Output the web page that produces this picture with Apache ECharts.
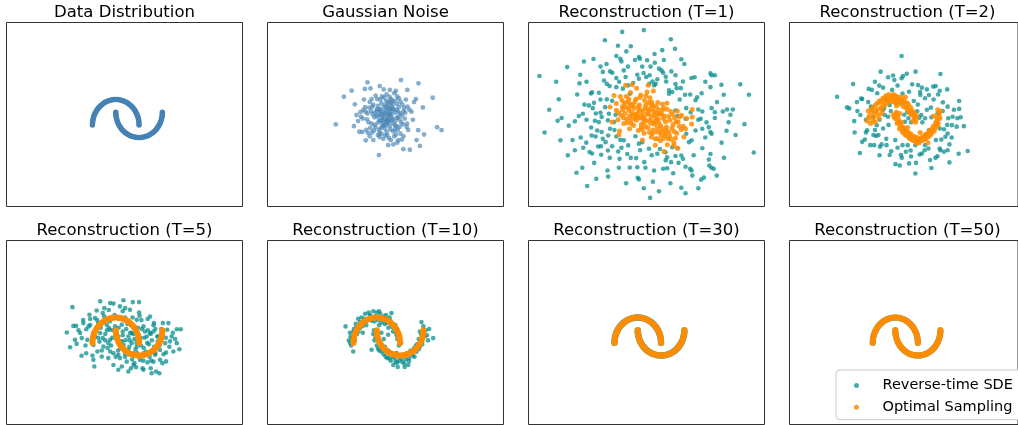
<!DOCTYPE html>
<html>
<head>
<meta charset="utf-8">
<script src="https://cdn.jsdelivr.net/npm/echarts@6/dist/echarts.min.js"></script>
<style>
  html, body { margin: 0; padding: 0; background: #fff; }
  #chart { width: 1018px; height: 425px; }
</style>
</head>
<body>
<div id="chart"></div>
<script>
// panel titles, left to right, top to bottom
const panelTitles = ['Data Distribution', 'Gaussian Noise', 'Reconstruction (T=1)', 'Reconstruction (T=2)',
  'Reconstruction (T=5)', 'Reconstruction (T=10)', 'Reconstruction (T=30)', 'Reconstruction (T=50)'];

// two moons, the target data
const moonPoints = [
  [1.000,0.000],[0.997,0.078],[0.988,0.156],[0.972,0.233],[0.951,0.309],[0.924,0.383],[0.891,0.454],
  [0.853,0.522],[0.809,0.588],[0.760,0.649],[0.707,0.707],[0.649,0.760],[0.588,0.809],[0.522,0.853],
  [0.454,0.891],[0.383,0.924],[0.309,0.951],[0.233,0.972],[0.156,0.988],[0.078,0.997],[0.000,1.000],
  [-0.078,0.997],[-0.156,0.988],[-0.233,0.972],[-0.309,0.951],[-0.383,0.924],[-0.454,0.891],[-0.522,0.853],
  [-0.588,0.809],[-0.649,0.760],[-0.707,0.707],[-0.760,0.649],[-0.809,0.588],[-0.853,0.522],[-0.891,0.454],
  [-0.924,0.383],[-0.951,0.309],[-0.972,0.233],[-0.988,0.156],[-0.997,0.078],[-1.000,0.000],
  [0.000,0.500],[0.003,0.422],[0.012,0.344],[0.028,0.267],[0.049,0.191],[0.076,0.117],[0.109,0.046],
  [0.147,-0.022],[0.191,-0.088],[0.240,-0.149],[0.293,-0.207],[0.351,-0.260],[0.412,-0.309],[0.478,-0.353],
  [0.546,-0.391],[0.617,-0.424],[0.691,-0.451],[0.767,-0.472],[0.844,-0.488],[0.922,-0.497],[1.000,-0.500],
  [1.078,-0.497],[1.156,-0.488],[1.233,-0.472],[1.309,-0.451],[1.383,-0.424],[1.454,-0.391],[1.522,-0.353],
  [1.588,-0.309],[1.649,-0.260],[1.707,-0.207],[1.760,-0.149],[1.809,-0.088],[1.853,-0.022],[1.891,0.046],
  [1.924,0.117],[1.951,0.191],[1.972,0.267],[1.988,0.344],[1.997,0.422],[2.000,0.500]
];

const noisePoints = [
  [1.04,1.77],[1.79,1.64],[-0.40,1.68],[-0.51,1.42],[-0.27,1.44],[-1.08,1.35],[-1.41,1.11],[2.40,1.07],
  [-1.76,0.02],[2.59,-0.09],[2.78,-0.21],[0.09,-1.19],[1.98,0.69],[1.31,1.38],[0.82,1.34],[0.13,1.53],
  [0.56,1.38],[-0.98,-0.05],[-0.75,-0.27],[-0.62,-0.28],[-0.47,-0.61],[1.42,-0.98],[1.14,-0.96],[1.85,-0.83],
  [2.03,-0.38],[1.78,-0.21],[1.71,-0.60],[0.71,-0.77],[0.49,-0.80],[-0.15,-0.60],[-0.94,0.81],[-0.87,0.39],
  [1.68,1.02],[1.49,0.52],[0.92,-0.60],
  [0.30,0.35],[0.45,0.20],[0.15,0.50],[0.60,0.40],[0.25,0.05],[0.50,0.65],[-0.10,0.30],[0.80,0.15],
  [0.05,0.75],[0.35,-0.15],[0.70,0.80],[-0.25,0.55],[1.00,0.45],[0.20,-0.35],[0.55,-0.05],[-0.35,0.10],
  [0.90,-0.20],[0.40,0.95],[-0.05,-0.10],[1.20,0.25],[0.65,0.55],[0.10,0.20],[0.75,-0.45],[-0.50,0.70],
  [0.30,0.70],[1.10,0.80],[-0.20,-0.30],[0.50,0.35],[0.85,0.60],[0.00,0.55],[0.38,0.12],[0.62,0.18],
  [0.22,0.28],[-0.30,0.90],[1.30,0.05],[0.45,-0.40],[0.95,1.05],[-0.60,0.25],[0.15,1.00],[0.70,0.05],
  [1.15,-0.45],[-0.15,0.80],[0.55,1.10],[0.28,-0.55],[1.40,0.60],[-0.45,-0.20],[0.05,-0.40],[0.80,0.95],
  [0.35,0.50],[0.58,0.75],[0.12,0.62],[0.92,0.32],[-0.40,0.45],[1.05,0.10],[0.48,0.85],[0.25,-0.05],
  [0.70,-0.25],[-0.05,1.15],[1.25,1.00],[0.40,0.00],[0.18,0.40],[0.65,0.30],[0.85,-0.05],[-0.22,0.05],
  [0.33,0.22],[0.52,0.48],[1.55,0.20],[-0.70,0.50],[0.10,-0.20],[0.95,0.70],[0.42,1.20],[1.35,-0.20],
  [-0.55,1.00],[0.75,1.25],[0.20,0.85],[0.60,-0.60],[-0.10,0.00],[1.15,0.55],[0.30,1.40],[-0.30,-0.45],
  [0.88,-0.70],[1.60,0.90],[0.00,0.35],[0.55,0.60],[-0.80,0.15],[0.47,0.28],[0.68,0.95],[1.02,-0.35],
  [0.15,0.15],[0.36,0.78],
  [0.28,0.42],[0.52,0.12],[0.08,0.38],[0.72,0.62],[0.18,-0.12],[0.44,0.72],[-0.18,0.42],[0.86,0.28],
  [0.02,0.62],[0.42,-0.28],[0.62,0.88],[-0.32,0.68],[1.08,0.38],[0.12,-0.48],[0.58,-0.18],[-0.42,0.22],
  [0.98,-0.08],[0.32,1.08],[-0.12,-0.22],[1.22,0.48],[0.78,0.48],[0.04,0.08],[0.82,-0.38],[-0.58,0.58],
  [0.38,0.58],[1.18,0.68],[-0.28,-0.12],[0.58,0.42],[0.92,0.52],[-0.08,0.48],[0.46,0.08],[0.68,0.22],
  [0.26,0.18],[-0.22,1.02],[1.28,-0.08],[0.52,-0.52],[0.88,1.12],[-0.68,0.32],[0.22,1.12],[0.78,-0.02],
  [1.08,-0.58],[-0.18,0.72],[0.62,1.02],[0.36,-0.42],[1.32,0.72],[-0.38,-0.32],[0.12,-0.32],[0.88,0.82],
  [0.42,0.42],[0.66,0.66],[0.18,0.58],[0.98,0.22],[-0.48,0.52],[1.12,0.02],[0.52,0.92],[0.32,-0.02],
  [0.78,-0.18],[0.02,1.02],[1.02,0.92],[0.48,0.18]
];

// T=1
const t1Sde = [
  [0.26,3.74],[-0.67,3.67],[1.42,3.38],[-1.41,3.34],[-0.85,3.12],[-0.49,2.90],[0.72,2.80],[-0.92,2.72],
  [-0.75,2.61],[0.09,2.61],[-0.12,2.56],[-2.31,2.50],[-3.03,2.28],[1.87,2.59],[1.12,2.56],[-1.34,2.40],
  [-0.42,2.30],[0.19,2.30],[0.73,2.45],[-1.19,2.11],[-1.09,2.06],[-1.50,2.09],[-2.47,1.98],[-2.50,1.64],
  [-4.22,1.93],[0.91,2.22],[1.09,2.06],[1.02,2.15],[1.44,2.11],[1.62,1.96],[0.51,1.96],[0.63,1.71],
  [0.49,1.62],[0.70,1.56],[-0.02,1.98],[0.05,1.82],[-0.92,1.85],[-0.52,1.89],[2.30,1.85],[2.44,1.88],
  [1.94,1.71],[3.12,2.04],[3.31,1.96],[3.17,1.96],[1.62,1.61],[1.67,1.45],[1.34,1.36],[1.48,1.30],
  [3.12,1.49],[3.59,1.58],[3.69,1.19],[4.77,1.19],[2.74,1.25],[2.55,1.09],[2.03,1.19],[-1.96,1.29],
  [-2.01,1.24],[-1.67,1.27],[-1.33,1.62],[-1.21,1.53],[-1.33,1.01],[-3.39,1.01],[-1.88,0.87],[-2.10,0.77],
  [-1.93,0.66],[-2.29,0.80],[-2.36,0.44],[-2.53,0.35],[-3.44,0.16],[-3.27,0.27],[-2.96,-0.03],[-2.70,0.14],
  [-1.60,0.48],[-1.55,0.31],[-1.84,0.16],[-1.67,0.11],[-1.28,0.18],[-1.74,-0.22],[-1.55,-0.28],[-1.98,-0.42],
  [-1.81,-0.46],[-2.45,-0.50],[-3.32,-0.61],[-2.34,-0.90],[-2.21,-0.70],[-2.07,-1.07],[-1.96,-1.13],[-1.57,-1.18],
  [-1.58,-0.84],[-1.28,-1.01],[-1.10,-0.84],[-0.92,-0.46],[-0.75,-0.59],[-0.84,-1.05],[-0.78,-1.34],[-0.81,-1.69],
  [-0.45,-1.15],[-0.34,-1.68],[-0.07,-1.31],[-0.02,-1.67],[0.28,-1.47],[0.33,-1.69],[-1.87,-1.50],[-2.38,-1.69],
  [-2.63,-1.89],[-1.78,-2.13],[-1.27,-2.04],[-2.17,-2.41],[0.00,-2.09],[0.05,-2.15],[0.26,-2.50],[0.65,-2.24],
  [0.53,-2.88],[0.91,-2.62],[1.09,-1.73],[1.26,-1.71],[1.19,-1.08],[1.26,-1.28],[0.84,-1.14],[1.62,-1.23],
  [1.43,-1.47],[1.87,-1.21],[1.94,-1.34],[2.05,-1.65],[2.25,-1.73],[2.31,-1.80],[2.34,-2.00],[1.52,-1.91],
  [1.87,-2.48],[2.05,-2.70],[2.72,-2.16],[2.84,-2.08],[3.05,-1.37],[3.07,-1.60],[3.16,-1.69],[3.26,-1.73],
  [3.39,-2.00],[3.12,-1.15],[2.77,-0.92],[2.31,-0.61],[2.48,-0.22],[2.77,-0.15],[3.05,-0.09],[3.12,-0.28],
  [3.17,-0.35],[3.81,-0.23],[4.58,0.03],[4.98,-1.09],[3.31,0.27],[3.17,0.66],[3.31,0.50],[3.83,0.61],
  [3.65,0.53],[4.08,0.61],[3.98,0.40],[2.60,0.61],[2.77,0.53],[2.70,0.24],[2.48,0.97],[2.08,0.66],
  [2.27,0.50],[1.62,0.57],[1.70,0.35],[2.05,0.24],[2.08,-0.35],[2.20,-0.68],[1.48,-0.88],[1.70,-0.92],
  [0.48,-0.94],[0.19,-0.68],[0.05,-0.74],[-0.41,-0.81],[-0.60,-0.61],[-1.19,-0.15],[-1.50,-0.55],[-1.38,-0.68],
  [-1.27,-0.42],[-1.02,0.11],[-1.24,0.44],[-0.92,1.49],[-0.64,1.43],[-0.42,1.56],[-0.34,1.23],[0.36,1.89],
  [0.84,1.80],[0.77,1.62],[1.22,1.71],[1.34,1.23],[0.05,2.68],
  [-1.80,0.45],[-1.45,1.75],[-1.10,0.95],[-0.80,1.70],[-0.60,2.15],[-0.20,1.65],[0.25,2.05],[0.55,2.30],
  [1.20,1.90],[1.85,1.45],[2.25,1.20],[2.60,0.20],[2.90,-0.50],[2.40,-1.20],[1.75,-1.50],[1.20,-1.40],
  [0.60,-1.20],[0.10,-1.00],[-0.30,-1.30],[-0.70,-0.90],[-1.20,-1.30],[-1.70,-0.85],[-2.00,-0.10],[-2.20,0.20],
  [-1.40,0.70],[-1.00,-0.20],[-0.95,0.40],[-1.60,1.00],[-2.60,1.20],[-2.80,-0.60],[3.40,0.90],[3.60,-0.70],
  [2.90,1.70],[4.20,-0.40],[-3.80,0.60],[-3.00,-1.20],[2.00,2.40],[-0.30,3.10],[1.60,3.00],[-1.90,2.60],
  [0.70,-1.80],[-0.50,-2.30],[1.40,-2.30],[-1.30,-1.80],[2.60,-2.50],[-2.70,-1.00],[3.70,-1.30],[4.40,1.60],
  [-0.10,-0.45],[0.95,-0.95],[1.80,1.00],[-0.70,2.50],[2.95,0.10],[0.40,2.55],[-1.60,2.30],[1.05,2.95],
  [3.90,0.10],[-2.20,1.70],[-4.00,-0.30],[-3.50,1.70]
];
const t1Opt = [
  [-1.19,0.71],[-1.10,0.11],[-0.78,-0.24],[-0.81,-0.39],[-0.52,1.56],[-0.24,1.58],[0.45,1.56],[0.67,1.34],
  [1.12,-1.05],[1.55,-0.81],[1.72,-0.92],[2.34,0.61],[2.31,0.04],[2.34,0.31],[2.05,-0.15],[1.98,-0.48],
  [-1.02,1.16],[-0.92,0.84],
  [-0.82,0.48],[-0.68,0.97],[-0.61,0.28],[-0.53,0.72],[-0.49,1.12],[-0.44,0.08],[-0.37,0.57],[-0.33,0.83],
  [-0.31,1.28],[-0.22,0.37],[-0.18,-0.02],[-0.16,0.66],[-0.08,1.02],[-0.03,0.43],[0.02,-0.22],[0.07,0.78],
  [0.12,0.27],[0.13,1.18],[0.22,0.53],[0.27,-0.33],[0.29,0.97],[0.37,0.16],[0.41,0.63],[0.44,-0.12],
  [0.52,1.07],[0.57,0.33],[0.58,-0.48],[0.66,0.77],[0.72,0.03],[0.73,0.52],[0.82,-0.28],[0.86,0.88],
  [0.88,0.22],[0.97,-0.63],[1.02,0.43],[1.04,-0.17],[1.11,0.68],[1.17,-0.43],[1.19,0.12],[1.27,-0.78],
  [1.32,0.33],[1.33,-0.27],[1.42,0.53],[1.44,-0.57],[1.52,0.02],[1.58,0.28],[1.67,-0.33],[1.73,0.12],
  [1.87,-0.18],[1.88,0.38],
  [-0.85,0.20],[-0.65,0.60],[-0.45,0.90],[-0.30,0.20],[-0.20,0.80],[0.00,0.30],[0.10,0.60],[0.25,0.30],
  [0.35,0.80],[0.45,0.45],[0.55,0.05],[0.60,0.90],[0.70,0.40],[0.80,0.15],[0.90,0.60],[1.00,-0.05],
  [1.10,0.25],[1.20,-0.20],[1.30,-0.55],[1.00,-0.40],[0.50,-0.30],[0.25,0.10],[-0.10,0.40],[-0.60,0.05],
  [0.15,-0.10],[0.65,-0.20],[0.85,-0.55],[1.55,-0.70],[0.40,1.30],[-0.05,1.45],[1.70,0.55],[2.10,0.25],
  [0.20,-0.60],[0.75,-0.80],[-0.35,-0.15],
  [-0.72,0.38],[-0.58,0.85],[-0.48,0.22],[-0.42,0.65],[-0.38,1.02],[-0.27,0.05],[-0.24,0.48],[-0.12,0.92],
  [-0.06,0.18],[0.04,0.55],[0.09,1.08],[0.17,0.38],[0.19,-0.18],[0.31,0.68],[0.33,-0.05],[0.39,0.42],
  [0.48,0.88],[0.53,0.18],[0.62,0.58],[0.63,-0.35],[0.77,0.28],[0.79,0.72],[0.84,-0.12],[0.93,0.42],
  [0.96,-0.28],[1.06,0.58],[1.08,-0.55],[1.14,0.35],[1.23,-0.08],[1.26,0.62],[1.36,-0.42],[1.38,0.18],
  [1.47,-0.12],[1.49,0.42],[1.62,-0.52],[1.64,0.12],[1.78,-0.05],[1.81,0.32],[-0.66,0.72],[-0.55,0.45],
  [-0.12,0.25],[0.02,0.72],[0.28,0.22],[0.47,0.58],[0.68,0.12],[0.92,0.05],[1.16,-0.32],[-0.35,0.35],
  [0.58,0.75],[0.75,-0.55],[1.05,0.82],[-0.92,0.58],[-0.75,1.12],[0.35,1.15],[1.25,0.85],[1.95,-0.05],
  [0.15,0.02],[-0.28,0.75],[0.82,0.45],[1.55,-0.25]
];

// T=2
const t2Sde = [
  [0.28,2.72],[-0.65,2.10],[0.51,2.02],[-1.87,1.61],[-2.58,1.11],[2.00,2.01],[-0.32,1.88],[-0.04,1.77],
  [0.28,1.84],[0.34,1.93],[-0.71,1.55],[-0.54,1.47],[-1.18,1.42],[-1.04,1.38],[-1.47,1.02],[-1.51,1.04],
  [-2.14,0.69],[-2.04,0.65],[-1.68,0.55],[-1.82,0.15],[-1.55,0.39],[-1.08,0.72],[-1.04,0.65],[1.01,1.57],
  [1.18,1.47],[1.68,1.51],[1.79,1.53],[1.97,1.35],[1.49,1.18],[1.32,1.05],[2.11,0.89],[2.32,0.72],
  [2.83,0.94],[2.83,0.63],[2.54,0.32],[2.35,0.26],[2.72,-0.07],[3.04,-0.05],[1.97,-0.14],[2.16,-0.17],
  [2.32,-0.34],[2.22,-0.47],[2.04,-0.58],[2.40,-0.77],[2.16,-1.06],[2.32,-1.00],[1.97,-0.93],[2.81,-1.14],
  [3.21,-1.03],[2.40,-1.48],[1.87,-1.24],[1.78,-1.30],[1.54,-1.39],[1.08,-1.17],[0.92,-1.50],[0.89,-1.92],
  [0.29,-1.30],[0.25,-1.19],[0.01,-1.55],[-0.25,-1.19],[-0.18,-1.04],[-0.39,-0.80],[-0.68,-0.86],[-0.61,-0.77],
  [-0.97,-0.40],[-0.85,-0.44],[-0.75,-0.40],[-0.94,-0.80],[-1.35,-0.58],[-1.57,-1.11],[-1.47,-0.67],[0.32,-0.80],
  [0.55,-0.80],[0.68,-1.01],[1.32,-0.80],[1.47,-0.93],[0.43,0.12],[0.58,0.26],[0.54,0.52],[0.97,0.54],
  [1.15,0.39],[1.07,0.28],[1.32,0.26],[1.58,0.68],[1.87,0.45],[-0.25,0.78],[-0.32,0.32],[-0.56,0.58],
  [-0.47,0.39],[0.03,0.85],[0.82,0.94],[1.11,1.18],[0.32,1.24],[0.61,1.31],[-0.14,1.38],[-0.97,0.32],
  [-0.82,-0.01],[-0.54,-0.14],[-1.25,-0.21],[0.89,-0.80],[1.18,-1.13],[2.75,0.26],[2.51,-0.01],[0.61,-1.52],
  [0.47,-1.06],[-1.11,-0.80],
  [-0.40,1.00],[0.10,1.55],[0.75,1.60],[1.40,1.40],[1.70,1.00],[2.10,0.55],[2.30,0.00],[1.80,-0.60],
  [1.30,-1.00],[0.70,-1.25],[0.10,-0.90],[-0.40,-0.55],[-0.90,-0.20],[-1.30,0.20],[-1.20,0.90],[-0.80,1.25],
  [0.40,0.40],[0.70,0.10],[0.20,0.10],[1.40,0.60],[1.00,0.80],[-0.20,0.55],[0.60,-0.40],[1.20,0.10],
  [1.60,0.30],[2.60,0.60],[2.00,-1.00],[0.00,-0.60],[-0.70,0.20],[-1.70,0.90],[1.00,-0.60],[0.40,-0.20],
  [-0.30,0.00],[2.50,-0.50],[1.90,1.20],[-0.10,1.95],[0.90,2.10],[-1.30,-0.30],[2.90,0.30],[0.20,-1.60],
  [1.60,-1.70],[-0.70,-1.20],[-1.80,-0.30],[2.30,1.40],[-0.90,1.70],[1.50,-0.20],[0.80,0.40],[-0.50,0.65],
  [1.10,1.30],[0.30,0.85]
];
const t2Opt = [
  [-1.25,0.15],[-1.15,0.35],[-1.10,0.05],[-1.05,0.50],[-0.95,0.30],[-0.98,0.70],[-0.85,0.55],[-0.80,0.85],
  [-0.75,0.40],[-0.70,0.95],[-0.62,0.70],[-0.55,1.05],[-0.50,0.85],[-0.42,1.15],[-0.35,0.95],[-0.28,1.20],
  [-0.20,1.00],[-0.12,1.10],[-0.05,0.90],[0.02,1.15],[0.10,1.00],[0.18,0.90],[0.25,1.10],[0.32,0.85],
  [0.40,0.95],[0.48,0.70],[0.55,0.85],[0.60,0.55],[0.68,0.70],[0.72,0.40],[0.80,0.50],[0.85,0.25],
  [0.90,0.10],[0.78,0.15],[-1.20,0.55],[-0.90,0.10],[-0.60,0.45],[0.05,0.75],[0.45,1.10],[0.95,0.35],
  [-0.10,0.40],[0.00,0.25],[0.05,0.50],[0.08,0.05],[0.15,0.20],[0.18,-0.15],[0.25,0.00],[0.30,-0.25],
  [0.38,-0.10],[0.45,-0.40],[0.52,-0.25],[0.60,-0.50],[0.68,-0.35],[0.75,-0.60],[0.82,-0.45],[0.90,-0.65],
  [0.98,-0.50],[1.05,-0.70],[1.12,-0.55],[1.20,-0.62],[1.28,-0.45],[1.35,-0.55],[1.42,-0.35],[1.50,-0.45],
  [1.55,-0.20],[1.62,-0.30],[1.68,-0.05],[1.75,-0.15],[1.80,0.10],[1.85,0.25],[1.90,0.05],[1.92,0.40],
  [1.98,0.25],[2.00,0.55],[1.88,0.60],[0.20,0.45],[0.55,-0.10],[1.10,-0.30],[1.45,-0.70],[1.70,0.35],
  [-1.18,0.28],[-1.08,0.62],[-1.00,0.18],[-0.92,0.48],[-0.88,0.78],[-0.78,0.62],[-0.72,0.25],[-0.66,0.88],
  [-0.58,0.62],[-0.52,1.00],[-0.45,0.78],[-0.38,1.08],[-0.30,0.88],[-0.22,1.12],[-0.15,0.92],[-0.08,1.20],
  [0.00,1.00],[0.08,1.10],[0.15,0.82],[0.22,1.00],[0.30,0.95],[0.36,0.72],[0.44,0.85],[0.52,0.62],
  [0.58,0.78],[0.65,0.45],[0.74,0.58],[0.82,0.35],[0.88,0.42],[0.92,0.20],
  [-0.05,0.30],[0.02,0.45],[0.10,0.12],[0.12,0.35],[0.22,-0.05],[0.28,0.10],[0.35,-0.32],[0.42,-0.18],
  [0.50,-0.42],[0.58,-0.30],[0.65,-0.55],[0.72,-0.42],[0.80,-0.62],[0.88,-0.50],[0.95,-0.72],[1.02,-0.58],
  [1.10,-0.65],[1.18,-0.48],[1.25,-0.58],[1.32,-0.38],[1.40,-0.50],[1.48,-0.28],[1.58,-0.38],[1.65,-0.15],
  [1.72,-0.25],[1.78,0.02],[1.84,0.15],[1.88,-0.05],[1.95,0.32],[1.94,0.48]
];

// T=5
const t5Sde = [
  [-1.86,1.41],[-0.67,1.64],[0.73,1.61],[1.00,1.61],[0.33,1.68],[-0.24,1.57],[-0.10,1.55],[-2.10,0.41],
  [-1.82,0.67],[-1.70,0.67],[-1.96,-0.17],[-1.75,0.12],[-1.68,-0.04],[-1.47,-0.51],[-1.27,-0.41],[-0.96,-0.67],
  [-0.92,-0.93],[-0.79,-0.34],[-0.89,0.98],[-1.13,1.11],[-1.39,0.78],[-1.27,0.54],[-1.46,0.19],[-0.10,-0.87],
  [0.11,-1.06],[0.26,-0.93],[0.54,-1.13],[0.76,-0.87],[0.87,-0.96],[1.19,-1.06],[1.54,-1.20],[1.73,-1.13],
  [1.87,-1.20],[1.36,-0.77],[1.90,-0.67],[2.16,-0.73],[2.16,-0.38],[2.47,-0.34],[2.62,-0.01],[2.73,-0.25],
  [2.79,0.54],[2.62,0.54],[2.26,0.78],[2.02,0.78],[2.21,0.52],[2.40,0.25],[1.47,1.04],[1.37,0.94],
  [1.64,0.78],[1.02,1.07],[0.90,0.91],[0.61,1.31],[0.40,1.37],[0.18,1.44],[-0.49,1.37],[-0.56,1.18],
  [-0.82,1.28],[-1.10,0.94],[-1.17,0.65],[-0.89,0.25],[-1.22,0.12],[-0.96,-0.08],[-0.53,-0.14],[-0.60,-0.54],
  [-0.32,-0.60],[-0.24,-0.34],[-0.10,-0.41],[0.18,-0.60],[0.11,-0.47],[0.40,-0.41],[0.47,-0.74],[1.04,-0.67],
  [1.19,-0.41],[1.40,-0.41],[1.62,-0.74],[1.69,-0.47],[1.90,-0.28],[2.12,-0.01],[1.83,0.25],[1.47,0.39],
  [1.62,0.45],[1.19,0.65],[1.33,0.25],[0.83,0.58],[0.69,0.39],[0.54,0.85],[0.26,0.72],[-0.03,0.65],
  [-0.24,0.52],[-0.46,0.91],[-0.39,0.72],[-0.67,0.39],[-0.56,0.19],[-0.24,0.12],[-0.32,-0.01],[0.11,0.25],
  [0.26,0.06],[0.33,-0.08],[0.54,0.25],[0.69,-0.01],[0.90,-0.14],[1.04,0.06],[0.54,-0.28],[0.76,-0.41],
  [-0.75,0.78],[-1.53,0.39],[2.33,0.06],
  [0.00,0.40],[0.30,0.30],[0.60,0.10],[0.90,0.00],[1.20,-0.20],[-0.30,0.60],[-0.60,0.80],[0.45,0.55],
  [0.75,0.35],[1.05,0.20],[1.35,0.00],[1.65,-0.15],[0.15,0.95],[-0.45,0.35],[0.35,-0.20],[0.85,-0.25],
  [1.50,0.35],[1.80,0.05],[-0.85,0.50],[-0.15,0.20],[0.55,-0.45],[1.00,-0.50],[0.20,0.05],[0.65,0.70],
  [1.25,0.45],[-0.70,0.05],[2.00,0.30],[0.95,0.60],[0.40,1.00],[-0.35,-0.20],[1.45,-0.55],[0.10,-0.30],
  [0.80,-0.80],[1.10,0.90],[1.70,0.55],
  [-1.10,0.70],[-0.95,0.40],[-0.80,0.90],[-0.75,0.20],[-0.65,0.60],[-0.50,1.05],[-0.45,0.10],[-0.38,0.50],
  [-0.25,0.85],[-0.20,-0.10],[-0.10,0.50],[-0.05,1.10],[0.05,0.15],[0.12,0.60],[0.20,-0.20],[0.25,0.95],
  [0.30,0.45],[0.40,-0.55],[0.42,0.10],[0.50,0.75],[0.58,-0.15],[0.62,0.40],[0.70,-0.65],[0.72,1.00],
  [0.80,0.15],[0.85,0.60],[0.92,-0.40],[0.98,0.30],[1.08,-0.10],[1.12,0.55],[1.18,-0.70],[1.22,0.20],
  [1.30,-0.35],[1.38,0.50],[1.42,-0.05],[1.52,-0.70],[1.55,0.10],[1.62,0.70],[1.70,-0.40],[1.78,0.25],
  [1.88,-0.10],[1.95,0.55],[2.05,-0.45],[2.15,0.20],[2.30,-0.15],[2.45,0.40],[-1.30,-0.10],[-1.60,0.50],
  [-0.60,-0.30],[0.00,-0.55],[0.30,1.25],[1.00,1.20],[1.50,-1.00],[2.00,-0.80],[-0.30,1.30],[0.65,-1.00],
  [1.15,-1.00],[-1.00,-0.50],[2.55,0.15],[-1.40,0.90]
];

// T=10
const t10Sde = [
  [-1.34,0.65],[-1.20,0.10],[-1.15,0.40],[-1.05,0.20],[-0.98,0.55],[-1.01,-0.34],[-0.90,0.75],[-0.85,0.35],
  [-0.80,0.95],[-0.70,0.60],[-0.65,1.00],[-0.55,0.80],[-0.50,1.15],[-0.40,0.90],[-0.35,1.20],[-0.25,1.05],
  [-0.15,1.25],[-0.10,0.85],[0.00,1.20],[0.05,0.90],[0.15,1.15],[0.20,0.80],[0.30,1.05],[0.35,0.75],
  [0.45,0.95],[0.50,0.60],[0.63,1.18],[0.60,0.75],[0.70,0.45],[0.75,0.65],[0.85,0.30],[0.90,0.50],
  [1.00,0.15],[0.95,-0.10],[-1.10,-0.10],[-0.60,0.40],[0.10,0.70],[0.55,1.00],
  [-0.22,-0.27],[-0.15,0.35],[-0.10,0.10],[0.05,0.20],[0.00,-0.10],[0.15,-0.05],[0.10,-0.30],[0.25,-0.20],
  [0.30,-0.45],[0.40,-0.30],[0.45,-0.60],[0.55,-0.45],[0.60,-0.70],[0.71,-0.87],[0.70,-0.55],[0.80,-0.75],
  [0.85,-0.40],[0.95,-0.70],[1.00,-0.50],[1.10,-0.75],[1.15,-0.45],[1.25,-0.65],[1.35,-0.87],[1.30,-0.40],
  [1.40,-0.60],[1.45,-0.30],[1.55,-0.50],[1.60,-0.20],[1.70,-0.35],[1.75,-0.05],[1.85,-0.15],[1.80,0.15],
  [1.95,0.05],[2.05,0.25],[1.90,0.35],[2.10,0.50],[1.92,0.82],[2.42,0.19],[2.20,0.10],[0.49,0.32],
  [0.30,0.15],[0.20,0.40],[1.20,-0.95],[0.90,-0.95],[2.00,0.65],
  [-1.15,0.00],[-1.12,0.25],[-1.00,0.45],[-0.95,0.10],[-0.88,0.62],[-0.78,0.45],[-0.72,0.82],[-0.60,0.68],
  [-0.52,0.95],[-0.45,0.70],[-0.30,1.10],[-0.22,0.88],[-0.05,1.05],[0.10,1.25],[0.25,0.92],[0.40,1.10],
  [0.42,0.80],[0.58,0.88],[0.68,0.62],[0.80,0.70],[0.82,0.42],[0.95,0.28],[1.05,0.00],[0.88,0.15],
  [-0.12,0.50],[-0.05,0.22],[0.08,0.05],[0.05,-0.22],[0.20,-0.35],[0.35,-0.15],[0.38,-0.55],[0.50,-0.30],
  [0.55,-0.62],[0.65,-0.40],[0.78,-0.60],[0.88,-0.78],[1.05,-0.62],[1.18,-0.82],[1.22,-0.48],[1.38,-0.72],
  [1.50,-0.38],[1.62,-0.55],[1.68,-0.10],[1.80,-0.25],[1.95,-0.05],[2.00,0.40],[2.15,0.30],[1.85,0.45],
  [2.25,0.55]
];

const seriesNames = ['Reverse-time SDE', 'Optimal Sampling'];

const X_MIN = -4.69, X_MAX = 5.44, Y_MIN = -3.22, Y_MAX = 4.04;
const colLeft = [6.5, 267.5, 528.5, 789.5];
const rowTop = [22.5, 240.5];
const titleTop = [4, 222];
const PW = 236, PH = 184;

const BLUE = '#4682b4', TEAL = '#008b8b', ORANGE = '#ff8c00';

function scatter(i, name, data, color, opacity, size) {
  return {
    type: 'scatter', name: name, xAxisIndex: i, yAxisIndex: i, data: data,
    symbolSize: size, silent: true,
    itemStyle: { color: color, opacity: opacity }
  };
}

const grids = [], xAxes = [], yAxes = [], titles = [];
for (let i = 0; i < 8; i++) {
  const c = i % 4, r = Math.floor(i / 4);
  grids.push({ left: colLeft[c], top: rowTop[r], width: PW, height: PH, show: true,
    borderColor: '#333', borderWidth: 1, backgroundColor: 'transparent' });
  xAxes.push({ gridIndex: i, type: 'value', min: X_MIN, max: X_MAX, show: false });
  yAxes.push({ gridIndex: i, type: 'value', min: Y_MIN, max: Y_MAX, show: false });
  titles.push({ text: panelTitles[i], left: colLeft[c] + PW / 2, top: titleTop[r],
    textAlign: 'center', padding: 0,
    textStyle: { fontSize: 16.5, fontWeight: 'normal', color: '#000', fontFamily: 'DejaVu Sans' } });
}

const series = [
  scatter(0, 'Data', moonPoints, BLUE, 1, 5.5),
  scatter(1, 'Noise', noisePoints, BLUE, 0.65, 4.8),
  scatter(2, seriesNames[0], t1Sde, TEAL, 0.72, 4.6),
  scatter(2, seriesNames[1], t1Opt, ORANGE, 0.85, 5),
  scatter(3, seriesNames[0], t2Sde, TEAL, 0.72, 4.6),
  scatter(3, seriesNames[1], t2Opt, ORANGE, 0.85, 5),
  scatter(4, seriesNames[0], t5Sde, TEAL, 0.72, 4.6),
  scatter(4, seriesNames[1], moonPoints, ORANGE, 0.95, 6),
  scatter(5, seriesNames[0], t10Sde, TEAL, 0.72, 4.6),
  scatter(5, seriesNames[1], moonPoints, ORANGE, 0.95, 6),
  scatter(6, seriesNames[0], moonPoints, TEAL, 0.6, 6.6),
  scatter(6, seriesNames[1], moonPoints, ORANGE, 0.95, 6),
  scatter(7, seriesNames[0], moonPoints, TEAL, 0.5, 6.3),
  scatter(7, seriesNames[1], moonPoints, ORANGE, 0.95, 6)
];

const chart = echarts.init(document.getElementById('chart'), null, { renderer: 'canvas' });
chart.setOption({
  animation: false,
  backgroundColor: '#fff',
  title: titles,
  grid: grids,
  xAxis: xAxes,
  yAxis: yAxes,
  legend: {
    data: seriesNames,
    orient: 'vertical',
    left: 836, top: 370,
    icon: 'circle',
    itemWidth: 42, itemHeight: 5, itemGap: 6.7,
    padding: [8, 8, 5, 18],
    backgroundColor: '#fff',
    borderColor: '#ccc', borderWidth: 1, borderRadius: 4,
    selectedMode: false,
    textStyle: { fontSize: 14.5, color: '#000', fontFamily: 'DejaVu Sans' }
  },
  series: series
});
</script>
</body>
</html>
